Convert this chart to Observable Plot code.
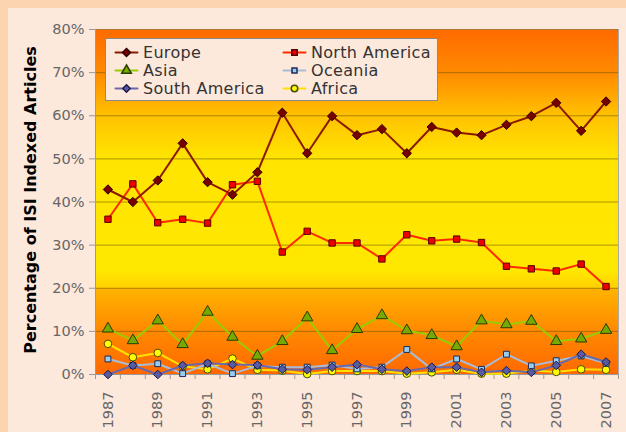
<!DOCTYPE html>
<html><head><meta charset="utf-8">
<script src="https://cdn.jsdelivr.net/npm/d3@7"></script>
<script src="https://cdn.jsdelivr.net/npm/@observablehq/plot@0.6"></script>
<style>
body{margin:0;background:#fcd5b0;font-family:"DejaVu Sans",sans-serif;width:626px;height:432px;overflow:hidden;position:relative}
#wrap{position:absolute;left:8px;top:8px;width:618px;height:424px;background:#fde8dc;}
#chart{position:absolute;left:0;top:0;}
#ytitle{position:absolute;left:30px;top:200px;transform:translate(-50%,-50%) rotate(-90deg);font-weight:bold;font-size:16px;white-space:nowrap;color:#000}
#legend{position:absolute;left:105px;top:38px;width:333px;height:63px;background:#fde8dc;border:1px solid #8a8a8a;box-sizing:border-box}
.li{position:absolute;display:flex;align-items:center;font-size:16px;color:#333;white-space:nowrap;letter-spacing:0.3px}
.li svg{margin-right:6px}
</style></head>
<body>
<div id="wrap"></div>
<div id="chart"></div>
<div id="ytitle">Percentage of ISI Indexed Articles</div>
<div id="legend"></div>
<script>
const years = d3.range(1987, 2008);
const xLabelYears = [1987,1989,1991,1993,1995,1997,1999,2001,2003,2005,2007];
const yTicks = [0,10,20,30,40,50,60,70,80];

const europe       = [42.9,40.0,45.0,53.6,44.6,41.7,46.9,60.7,51.3,59.9,55.5,56.9,51.3,57.4,56.1,55.5,57.9,59.9,63.0,56.5,63.3];
const northAmerica = [36.0,44.2,35.2,36.0,35.1,44.0,44.8,28.4,33.2,30.5,30.5,26.8,32.4,31.0,31.4,30.6,25.1,24.5,24.0,25.6,20.4];
const asia         = [10.6,7.9,12.5,7.0,14.5,8.7,4.3,7.7,13.2,5.6,10.5,13.7,10.2,9.1,6.5,12.5,11.6,12.4,7.7,8.3,10.3];
const oceania      = [3.6,2.1,2.5,0.2,2.5,0.2,2.0,1.7,1.7,2.2,1.3,1.7,5.8,1.3,3.6,1.2,4.7,2.0,3.2,4.3,2.6];
const southAmerica = [0.0,2.1,0.0,2.1,2.6,2.3,2.2,1.2,1.1,1.7,2.3,1.2,0.8,1.7,1.7,0.5,0.9,0.5,2.1,4.7,2.9];
const africa       = [7.1,4.0,5.0,1.9,1.2,3.7,1.1,0.9,0.1,0.8,0.8,0.8,0.2,0.5,1.1,0.2,0.2,0.9,0.6,1.2,1.1];

const series = [
  {name:"Europe", values:europe, line:"#8b1a00", fill:"#7a0000", stroke:"#2a0000", symbol:"diamond2", r:4.2},
  {name:"North America", values:northAmerica, line:"#ff2a00", fill:"#ee0000", stroke:"#5a0000", symbol:"square", r:3.6},
  {name:"Asia", values:asia, line:"#99cc00", fill:"#77aa00", stroke:"#2a3a00", symbol:"triangle", r:4.2},
  {name:"Oceania", values:oceania, line:"#a8bcd8", fill:"#99ccee", stroke:"#1a2a5a", symbol:"square", r:3.3},
  {name:"South America", values:southAmerica, line:"#6a6aaa", fill:"#5a5aa0", stroke:"#1a1a4a", symbol:"diamond2", r:3.9},
  {name:"Africa", values:africa, line:"#ffe000", fill:"#ffff00", stroke:"#4a4a00", symbol:"circle", r:3.8}
];
const drawOrder = ["Asia","Africa","Oceania","South America","North America","Europe"];

const marks = [
  Plot.frame({fill:"url(#bgGrad)", stroke:"none"}),
  Plot.ruleY(yTicks.filter(d=>d>0), {stroke:"#6a5200", strokeOpacity:0.55, strokeWidth:1}),
  Plot.axisY(yTicks, {tickFormat:d=>d+"%", tickSize:6, tickPadding:5, fontSize:14.5, color:"#666", stroke:"#999", label:null}),
  Plot.ruleX([1986.5], {stroke:"#999"}),
  Plot.axisX(years.map(d=>d+0.5).concat([1986.5]), {tickSize:5, tickFormat:()=>"", stroke:"#999", label:null}),
  Plot.axisX(xLabelYears, {tickSize:0, tickRotate:-90, tickPadding:17, fontSize:14.5, color:"#666", tickFormat:d=>String(d), label:null}),
  Plot.ruleY([0], {stroke:"#999"}),
  Plot.ruleX([2007.5], {stroke:"#aaa"})
];
for (const nm of drawOrder) {
  const s = series.find(d=>d.name===nm);
  const data = years.map((y,i)=>({year:y, v:s.values[i]}));
  marks.push(Plot.line(data, {x:"year", y:"v", stroke:s.line, strokeWidth:2}));
  marks.push(Plot.dot(data, {x:"year", y:"v", symbol:()=>s.symbol, r:s.r, fill:s.fill, stroke:s.stroke, strokeWidth:1}));
}

const chart = Plot.plot({
  width:626, height:432,
  marginLeft:95, marginRight:8, marginTop:29, marginBottom:58,
  style:{background:"transparent", fontFamily:"DejaVu Sans, sans-serif"},
  x:{type:"linear", domain:[1986.5, 2007.5], axis:null},
  y:{domain:[0,80], axis:null},
  symbol:{type:"identity"},
  marks
});
const ns = "http://www.w3.org/2000/svg";
const defs = document.createElementNS(ns, "defs");
defs.innerHTML = `<linearGradient id="bgGrad" x1="0" y1="0" x2="0" y2="1">
  <stop offset="0" stop-color="#ff6a00"/>
  <stop offset="0.13" stop-color="#ff8c00"/>
  <stop offset="0.25" stop-color="#ffc200"/>
  <stop offset="0.37" stop-color="#ffe400"/>
  <stop offset="0.70" stop-color="#ffe800"/>
  <stop offset="0.749" stop-color="#ffd000"/>
  <stop offset="0.75" stop-color="#ffb400"/>
  <stop offset="0.87" stop-color="#ff8a00"/>
  <stop offset="1" stop-color="#ff6800"/>
</linearGradient>`;
chart.insertBefore(defs, chart.firstChild);
document.getElementById("chart").appendChild(chart);

const legend = document.getElementById("legend");
const legendOrder = ["Europe","North America","Asia","Oceania","South America","Africa"];
legendOrder.forEach((nm,i)=>{
  const s = series.find(d=>d.name===nm);
  const col = i%2, row = Math.floor(i/2);
  const div = document.createElement("div");
  div.className = "li";
  div.style.left = (col===0 ? 9 : 177) + "px";
  div.style.top = (4 + row*18) + "px";
  div.style.height = "18px";
  const sw = Plot.plot({
    width:22, height:14, margin:0,
    x:{domain:[0,2], axis:null}, y:{domain:[0,1], axis:null},
    symbol:{type:"identity"},
    style:{background:"transparent", overflow:"visible"},
    marks:[
      Plot.line([{a:0,b:0.5},{a:2,b:0.5}], {x:"a", y:"b", stroke:s.line, strokeWidth:2}),
      Plot.dot([{a:1,b:0.5}], {x:"a", y:"b", symbol:()=>s.symbol, r:s.r*0.85, fill:s.fill, stroke:s.stroke})
    ]
  });
  div.appendChild(sw);
  const t = document.createElement("span");
  t.textContent = nm;
  div.appendChild(t);
  legend.appendChild(div);
});
</script>
</body></html>
